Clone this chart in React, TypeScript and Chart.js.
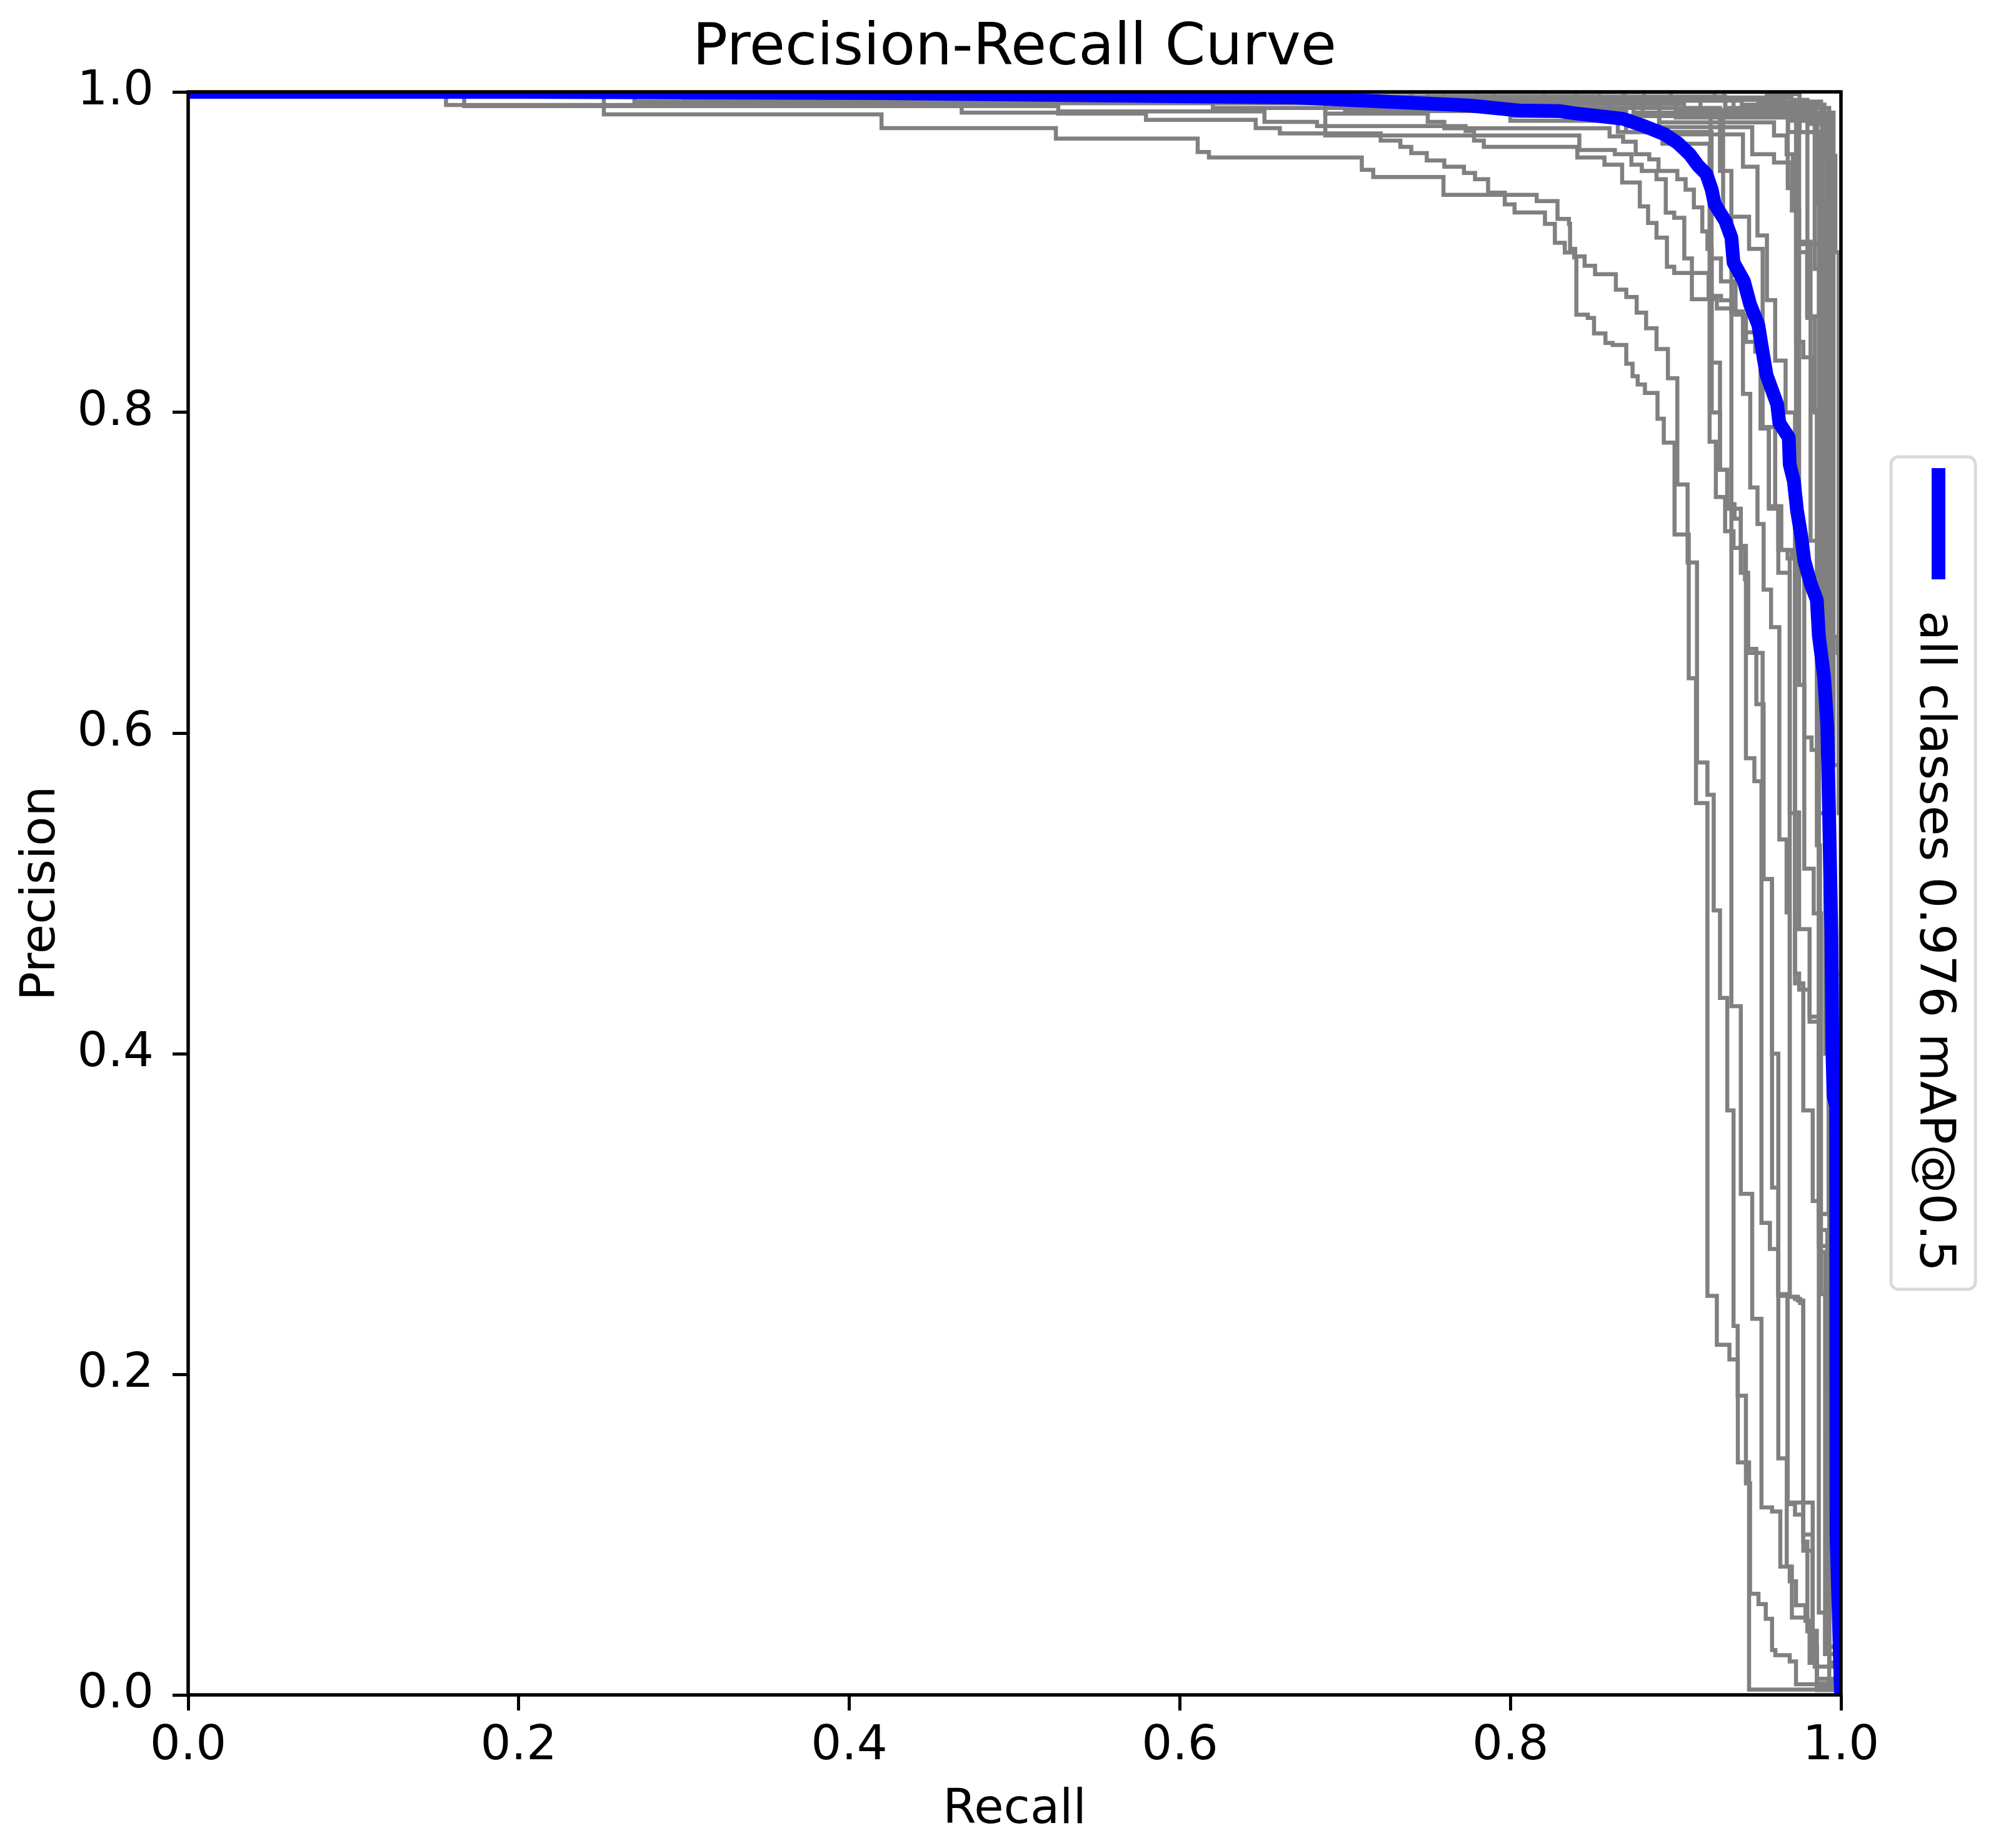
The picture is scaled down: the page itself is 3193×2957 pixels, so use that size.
import { useRef, useEffect } from "react";
import { Chart, registerables } from "chart.js";

Chart.register(...registerables);

const FONT = "'DejaVu Sans'";
const tickValues = [0, 0.2, 0.4, 0.6, 0.8, 1];
const legendLabel = "all classes 0.976 mAP@0.5";

// mean curve
const meanRecall = [0, 0.2, 0.42, 0.67, 0.775, 0.805, 0.83, 0.84, 0.8682, 0.8808, 0.8934, 0.901, 0.9085, 0.9136, 0.9186, 0.9218, 0.9236, 0.93, 0.9337, 0.935, 0.9413, 0.945, 0.95, 0.952, 0.955, 0.9614, 0.9627, 0.9684, 0.969, 0.9715, 0.9734, 0.9759, 0.9778, 0.9816, 0.9854, 0.9866, 0.9898, 0.9917, 0.993, 0.9942, 0.9948, 0.9955, 0.9971, 0.9973, 1];
const meanPrecision = [1, 1, 0.9992, 0.9965, 0.9915, 0.9884, 0.988, 0.9865, 0.9832, 0.9787, 0.9735, 0.9683, 0.961, 0.9539, 0.9487, 0.939, 0.93, 0.9195, 0.9091, 0.8935, 0.8818, 0.8675, 0.8545, 0.8415, 0.8233, 0.8051, 0.7935, 0.7844, 0.7675, 0.7571, 0.7389, 0.7233, 0.7077, 0.6934, 0.683, 0.6609, 0.6349, 0.605, 0.54, 0.475, 0.4023, 0.3737, 0.3672, 0.1, 0];

// per class curves, recall where the step drops and precision after the drop
const class01Recall = [0, 0.2515, 0.4195, 0.525, 0.6108, 0.6176, 0.7101, 0.717, 0.7595, 0.8159, 0.8285, 0.8354, 0.8361, 0.8392, 0.8449, 0.8512, 0.8638, 0.8701, 0.8764, 0.8821, 0.8884, 0.8953, 0.901, 0.9072, 0.9129, 0.9192, 0.923, 0.9268, 0.9312, 0.935, 0.9375, 0.9425, 0.945, 0.9501, 0.9545, 0.9583, 0.9603, 0.969, 0.9728, 0.9854, 1];
const class01Precision = [1, 0.986, 0.9774, 0.9709, 0.9625, 0.9591, 0.9514, 0.9469, 0.9358, 0.9319, 0.9208, 0.9176, 0.902, 0.8974, 0.8915, 0.8863, 0.8766, 0.872, 0.8623, 0.8525, 0.8396, 0.8213, 0.7551, 0.7064, 0.5817, 0.5615, 0.4894, 0.4348, 0.3646, 0.2301, 0.1866, 0.132, 0.0631, 0.0566, 0.0475, 0.028, 0.0248, 0.0209, 0.0066, 0.003, 0];
const class02Recall = [0, 0.156, 0.468, 0.5264, 0.5795, 0.6459, 0.6605, 0.7215, 0.7334, 0.74, 0.7494, 0.76, 0.7719, 0.7786, 0.7865, 0.7966, 0.8025, 0.8209, 0.8269, 0.8329, 0.8386, 0.8399, 0.8468, 0.8506, 0.8575, 0.8619, 0.8701, 0.8739, 0.877, 0.8814, 0.889, 0.8928, 0.8993, 0.9079, 0.9123, 0.9192, 0.9249, 0.9325, 0.9376, 0.9444, 1];
const class02Precision = [1, 0.9918, 0.987, 0.9865, 0.9826, 0.9774, 0.9741, 0.9696, 0.9657, 0.9618, 0.9572, 0.9533, 0.9494, 0.9455, 0.9371, 0.9298, 0.9248, 0.9176, 0.9058, 0.8998, 0.8967, 0.861, 0.859, 0.8493, 0.8434, 0.8421, 0.8304, 0.8226, 0.8174, 0.8122, 0.7961, 0.7812, 0.7239, 0.6342, 0.5563, 0.2489, 0.2184, 0.2093, 0.145, 0.0033, 0];
const class03Recall = [0, 0.167, 0.5264, 0.6512, 0.683, 0.7729, 0.778, 0.7839, 0.8405, 0.8569, 0.8676, 0.8783, 0.8833, 0.8884, 0.8947, 0.8991, 0.9098, 0.9249, 0.9337, 0.9407, 0.9451, 0.9495, 0.9532, 0.9577, 0.9627, 0.9671, 0.969, 0.9722, 0.9753, 0.9772, 0.9797, 0.9829, 0.9854, 1];
const class03Precision = [1, 0.9911, 0.9878, 0.9813, 0.9787, 0.9756, 0.9696, 0.9657, 0.9591, 0.9546, 0.9435, 0.9286, 0.9182, 0.9091, 0.8909, 0.887, 0.8707, 0.8649, 0.863, 0.8116, 0.7532, 0.7304, 0.6895, 0.6661, 0.5336, 0.4881, 0.2483, 0.247, 0.2444, 0.0956, 0.041, 0.0202, 0.0072, 0];
const class04Recall = [0, 0.27, 0.62, 0.8, 0.865, 0.892, 0.9205, 0.9243, 0.9299, 0.935, 0.9419, 0.9425, 0.9476, 0.9519, 0.957, 0.9621, 0.9672, 0.969, 0.9728, 0.9785, 0.981, 0.9854, 1];
const class04Precision = [1, 0.994, 0.99, 0.982, 0.975, 0.9676, 0.7818, 0.7473, 0.7259, 0.7155, 0.696, 0.5843, 0.57, 0.2944, 0.2782, 0.1476, 0.08, 0.0709, 0.0559, 0.0462, 0.02, 0.005, 0];
const class05Recall = [0, 0.3, 0.7, 0.87, 0.9217, 0.9268, 0.9312, 0.9356, 0.9394, 0.9425, 0.9438, 0.9488, 0.9532, 0.9583, 0.9621, 0.9677, 0.9722, 0.9772, 0.9829, 0.9854, 1];
const class05Precision = [1, 0.995, 0.988, 0.975, 0.8311, 0.7642, 0.7428, 0.7337, 0.7168, 0.6973, 0.6525, 0.618, 0.5089, 0.3165, 0.2489, 0.119, 0.1125, 0.09, 0.03, 0.006, 0];
const class06Recall = [0, 0.42, 0.72, 0.9268, 0.9337, 0.9394, 0.9463, 0.9519, 0.9583, 0.9633, 0.9703, 0.9797, 0.9841, 1];
const class06Precision = [1, 0.996, 0.99, 0.9507, 0.4296, 0.3126, 0.2346, 0.117, 0.1144, 0.08, 0.0482, 0.0397, 0.0176, 0];
const class07Recall = [0, 0.5, 0.8, 0.9211, 0.9274, 0.9362, 0.9425, 0.9482, 0.9514, 0.9564, 0.9621, 0.9677, 0.969, 0.974, 0.9772, 0.9829, 0.9854, 1];
const class07Precision = [1, 0.995, 0.985, 0.8961, 0.8818, 0.861, 0.8441, 0.838, 0.7909, 0.7415, 0.7142, 0.709, 0.2483, 0.246, 0.1, 0.04, 0.01, 0];
const class08Recall = [0, 0.35, 0.75, 0.89, 0.9407, 0.9495, 0.9552, 0.9602, 0.9665, 0.9722, 0.9772, 0.9829, 0.9866, 0.9904, 1];
const class08Precision = [1, 0.996, 0.99, 0.9735, 0.9533, 0.9104, 0.8701, 0.8324, 0.8, 0.4439, 0.3646, 0.3081, 0.0514, 0.0254, 0];
const class09Recall = [0, 0.6, 0.85, 0.89, 0.9463, 0.9595, 0.9703, 0.9728, 0.9772, 0.9835, 0.9854, 0.9873, 0.9904, 1];
const class09Precision = [1, 0.997, 0.985, 0.978, 0.9611, 0.9559, 0.926, 0.8441, 0.8344, 0.8013, 0.53, 0.2762, 0.0254, 0];
const class10Recall = [0, 0.55, 0.86, 0.9287, 0.9444, 0.9526, 0.9602, 0.9639, 0.9703, 0.9722, 0.9747, 0.981, 0.9866, 0.9917, 1];
const class10Precision = [1, 0.996, 0.985, 0.9221, 0.902, 0.7909, 0.7415, 0.7142, 0.709, 0.5505, 0.4777, 0.4231, 0.28, 0.03, 0];
const class11Recall = [0, 0.65, 0.8745, 0.9728, 0.9778, 0.9822, 0.9866, 0.9917, 1];
const class11Precision = [1, 0.995, 0.987, 0.7, 0.5973, 0.5895, 0.29, 0.03, 0];
const class12Recall = [0, 0.7, 0.88, 0.9747, 0.9778, 0.9835, 0.9879, 0.9929, 1];
const class12Precision = [1, 0.995, 0.986, 0.63, 0.5154, 0.4875, 0.25, 0.02, 0];
const class13Recall = [0, 0.9627, 0.97, 0.9797, 0.9841, 0.9866, 0.9929, 1];
const class13Precision = [1, 0.9985, 0.995, 0.859, 0.8, 0.55, 0.06, 0];
const class14Recall = [0, 0.9551, 0.975, 0.9841, 0.9879, 0.9942, 1];
const class14Precision = [1, 0.9985, 0.989, 0.8896, 0.8, 0.3, 0];
const class15Recall = [0, 0.8537, 0.93, 0.975, 0.9866, 0.9892, 0.9929, 1];
const class15Precision = [1, 0.9945, 0.99, 0.975, 0.78, 0.66, 0.37, 0];
const class16Recall = [0, 0.8688, 0.94, 0.98, 0.9892, 0.9917, 0.9955, 1];
const class16Precision = [1, 0.9945, 0.992, 0.98, 0.72, 0.55, 0.2, 0];
const class17Recall = [0, 0.8808, 0.95, 0.985, 0.9917, 0.9942, 1];
const class17Precision = [1, 0.995, 0.993, 0.985, 0.6609, 0.4, 0];
const class18Recall = [0, 0.8972, 0.955, 0.988, 0.9942, 0.998, 1];
const class18Precision = [1, 0.995, 0.994, 0.985, 0.66, 0.65, 0];
const class19Recall = [0, 0.9236, 0.96, 0.99, 0.9966, 0.9986, 1];
const class19Precision = [1, 0.995, 0.992, 0.96, 0.9, 0.55, 0];
const class20Recall = [0, 0.9293, 0.965, 0.9929, 1];
const class20Precision = [1, 0.995, 0.99, 0.008, 0];
const class21Recall = [0, 0.6, 0.89, 0.9595, 0.9671, 0.9709, 0.9747, 0.9816, 0.9866, 0.9929, 1];
const class21Precision = [1, 0.995, 0.981, 0.9728, 0.9611, 0.926, 0.9065, 0.72, 0.3, 0.02, 0];
const class22Recall = [0, 0.4, 0.688, 0.75, 0.76, 0.86, 0.8682, 0.8758, 0.884, 0.8896, 0.901, 0.906, 0.911, 0.9161, 0.9192, 0.9218, 0.9268, 0.9312, 0.9394, 0.9438, 0.9526, 0.9583, 0.9621, 0.9677, 0.9829, 0.9854, 1];
const class22Precision = [1, 0.993, 0.9865, 0.9813, 0.9773, 0.9722, 0.9689, 0.9611, 0.9579, 0.9507, 0.9455, 0.939, 0.928, 0.913, 0.902, 0.8, 0.7642, 0.74, 0.7, 0.65, 0.5089, 0.4, 0.25, 0.12, 0.03, 0.01, 0];
const class23Recall = [0, 0.4, 0.688, 0.8417, 0.8632, 0.8732, 0.8795, 0.8884, 0.894, 0.8991, 0.9052, 0.9098, 0.9199, 0.9274, 0.9337, 0.9407, 0.9482, 0.9514, 0.9564, 0.9621, 0.969, 0.9722, 0.9747, 0.981, 0.9866, 0.9929, 1];
const class23Precision = [1, 0.993, 0.9728, 0.9637, 0.9611, 0.9546, 0.9507, 0.9455, 0.9247, 0.9214, 0.8961, 0.887, 0.8727, 0.87, 0.863, 0.85, 0.838, 0.79, 0.74, 0.7, 0.55, 0.45, 0.44, 0.42, 0.3, 0.02, 0];
const class24Recall = [0, 0.75, 0.93, 0.9857, 0.9905, 0.9942, 1];
const class24Precision = [1, 0.997, 0.986, 0.93, 0.62, 0.45, 0];
const class25Recall = [0, 0.78, 0.935, 0.968, 0.9875, 0.9925, 1];
const class25Precision = [1, 0.996, 0.987, 0.975, 0.7, 0.3, 0];
const class26Recall = [0, 0.82, 0.9, 0.9885, 0.993, 0.9965, 1];
const class26Precision = [1, 0.996, 0.984, 0.72, 0.5, 0.25, 0];
const class27Recall = [0, 0.84, 0.97, 0.9915, 0.995, 1];
const class27Precision = [1, 0.9965, 0.982, 0.64, 0.33, 0];
const class28Recall = [0, 0.76, 0.9, 0.9734, 0.9795, 0.9905, 1];
const class28Precision = [1, 0.995, 0.9885, 0.9, 0.86, 0.4, 0];
const class29Recall = [0, 0.79, 0.915, 0.9955, 1];
const class29Precision = [1, 0.9955, 0.987, 0.58, 0];
const class30Recall = [0, 0.74, 0.905, 0.9678, 0.9745, 0.9875, 0.9935, 1];
const class30Precision = [1, 0.9925, 0.9858, 0.94, 0.905, 0.66, 0.06, 0];

const classCurves = [
  [class01Recall, class01Precision],
  [class02Recall, class02Precision],
  [class03Recall, class03Precision],
  [class04Recall, class04Precision],
  [class05Recall, class05Precision],
  [class06Recall, class06Precision],
  [class07Recall, class07Precision],
  [class08Recall, class08Precision],
  [class09Recall, class09Precision],
  [class10Recall, class10Precision],
  [class11Recall, class11Precision],
  [class12Recall, class12Precision],
  [class13Recall, class13Precision],
  [class14Recall, class14Precision],
  [class15Recall, class15Precision],
  [class16Recall, class16Precision],
  [class17Recall, class17Precision],
  [class18Recall, class18Precision],
  [class19Recall, class19Precision],
  [class20Recall, class20Precision],
  [class21Recall, class21Precision],
  [class22Recall, class22Precision],
  [class23Recall, class23Precision],
  [class24Recall, class24Precision],
  [class25Recall, class25Precision],
  [class26Recall, class26Precision],
  [class27Recall, class27Precision],
  [class28Recall, class28Precision],
  [class29Recall, class29Precision],
  [class30Recall, class30Precision],
];

const toPoints = (recall: number[], precision: number[]) =>
  recall.map((r, i) => ({ x: r, y: precision[i] }));

// spines on top of the curves and the outside legend
const framePlugin = {
  id: "frame",
  afterDraw(chart: any) {
    const { ctx, chartArea: a } = chart;
    ctx.save();
    ctx.strokeStyle = "#000";
    ctx.lineWidth = 5.5;
    ctx.strokeRect(a.left, a.top, a.right - a.left, a.bottom - a.top);

    ctx.strokeStyle = "#d9d9d9";
    ctx.lineWidth = 5;
    ctx.fillStyle = "#fff";
    ctx.beginPath();
    ctx.roundRect(3025, 731, 135, 1332, 12);
    ctx.fill();
    ctx.stroke();

    ctx.fillStyle = "#0000ff";
    ctx.fillRect(3090, 749, 22, 178);

    ctx.translate(3072, 977);
    ctx.rotate(Math.PI / 2);
    ctx.fillStyle = "#000";
    ctx.font = `78.6px ${FONT}`;
    ctx.textAlign = "left";
    ctx.textBaseline = "alphabetic";
    ctx.fillText(legendLabel, 0, 0);
    ctx.restore();
  },
};

const App = () => {
  const chartRef = useRef<HTMLCanvasElement | null>(null);

  useEffect(() => {
    const ctx = chartRef.current?.getContext("2d");
    const tickOptions = (padding: number) => ({
      padding,
      color: "#000",
      font: { family: FONT, size: 77 },
      autoSkip: false,
      maxRotation: 0,
      callback: (v: any) => Number(v).toFixed(1),
    });
    const gridOptions = {
      drawOnChartArea: false,
      drawTicks: true,
      tickLength: 25,
      tickWidth: 5,
      tickColor: "#000",
    };
    const myChart = new Chart(ctx, {
      type: "line",
      data: {
        datasets: [
          {
            label: legendLabel,
            data: toPoints(meanRecall, meanPrecision),
            borderColor: "#0000ff",
            borderWidth: 22,
            borderJoinStyle: "round",
            pointRadius: 0,
            clip: 0,
          },
          ...classCurves.map(([recall, precision], i) => ({
            label: `class ${i + 1}`,
            data: toPoints(recall, precision),
            borderColor: "#808080",
            borderWidth: 6.5,
            borderJoinStyle: "miter",
            stepped: "before",
            pointRadius: 0,
            clip: 0,
          })),
        ],
      },
      options: {
        responsive: false,
        devicePixelRatio: 1,
        animation: false,
        layout: { padding: { right: 248 } },
        plugins: {
          legend: { display: false },
          tooltip: { enabled: false },
          title: {
            display: true,
            text: "Precision-Recall Curve",
            fullSize: false,
            color: "#000",
            font: { family: FONT, size: 93, weight: "normal", lineHeight: 1 },
            padding: { top: 32, bottom: 22 },
          },
        },
        scales: {
          x: {
            type: "linear",
            min: 0,
            max: 1,
            afterFit: (scale: any) => {
              scale.height = 245;
            },
            afterBuildTicks: (scale: any) => {
              scale.ticks = tickValues.map((value) => ({ value }));
            },
            grid: gridOptions,
            border: { display: false },
            ticks: tickOptions(12),
            title: {
              display: true,
              text: "Recall",
              color: "#000",
              font: { family: FONT, size: 77 },
              padding: { top: 10, bottom: 14 },
            },
          },
          y: {
            type: "linear",
            min: 0,
            max: 1,
            afterFit: (scale: any) => {
              scale.width = 301;
            },
            afterBuildTicks: (scale: any) => {
              scale.ticks = tickValues.map((value) => ({ value }));
            },
            grid: gridOptions,
            border: { display: false },
            ticks: tickOptions(30),
            title: {
              display: true,
              text: "Precision",
              color: "#000",
              font: { family: FONT, size: 77 },
              padding: { top: 21, bottom: 0 },
            },
          },
        },
      },
      plugins: [framePlugin],
    } as any);
    return () => {
      myChart.destroy();
    };
  }, []);

  return (
    <canvas
      ref={chartRef}
      width={3193}
      height={2957}
      style={{ position: "absolute", left: 0, top: 0, background: "#fff" }}
    ></canvas>
  );
};
export default App;
